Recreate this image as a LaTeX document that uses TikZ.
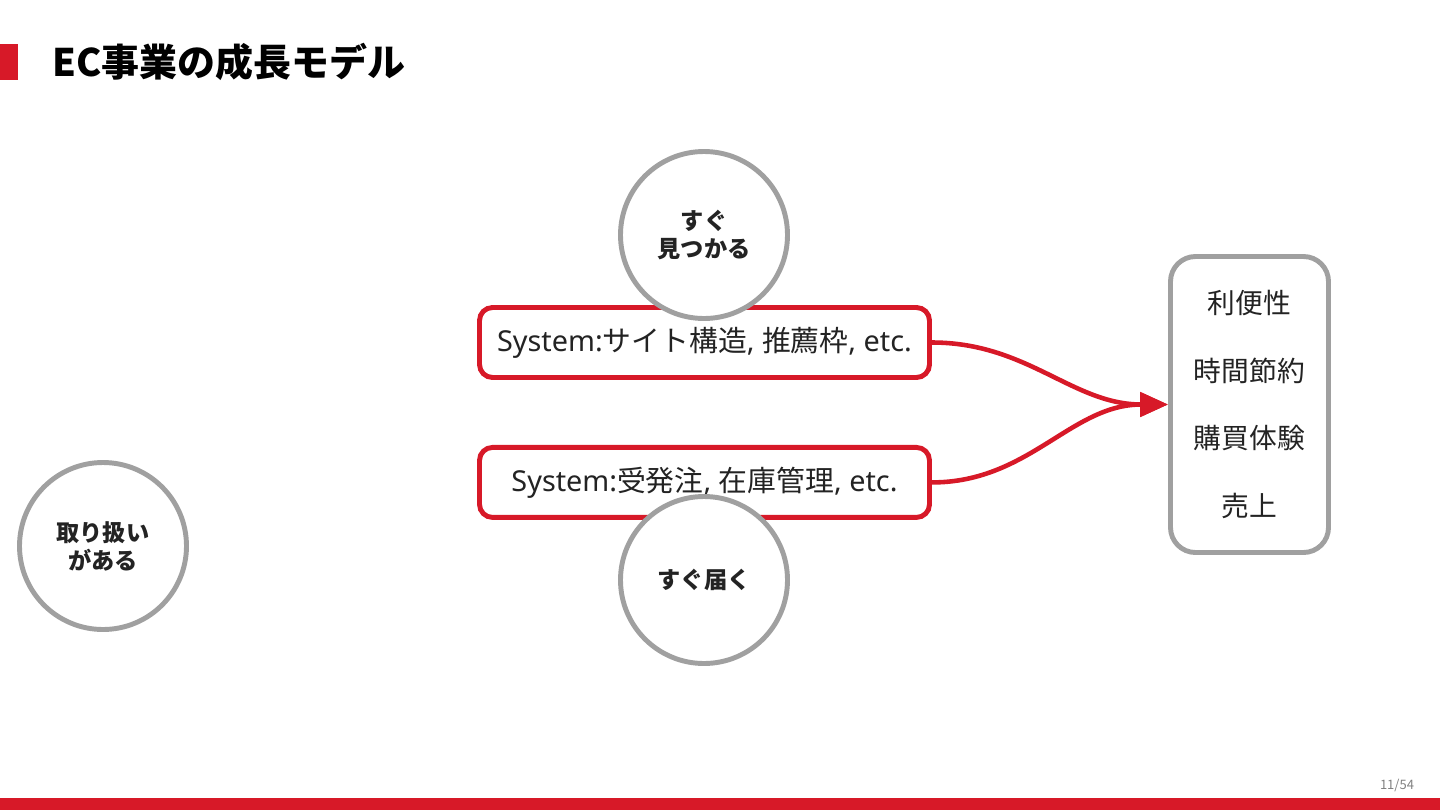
\documentclass[tikz,border=0pt]{standalone}
\usepackage{fontspec}
\setmainfont{Noto Sans CJK JP}
\newfontfamily\latn{Noto Sans}
\usetikzlibrary{arrows.meta,positioning}
\definecolor{ecred}{RGB}{215,25,40}
\definecolor{ecgray}{RGB}{160,160,160}
\definecolor{ecink}{RGB}{35,35,35}
\newcommand{\ltx}[1]{{\latn #1}}

\begin{document}
\begin{tikzpicture}[
    sysbox/.style={draw=ecred, line width=1.4pt, rounded corners=0.13cm, fill=white, minimum width=4.5cm, minimum height=0.7cm, inner sep=0pt, text=ecink, font=\fontsize{8.2}{9}\selectfont},
    bubble/.style={circle, draw=ecgray, line width=1.4pt, fill=white, minimum size=1.67cm, inner sep=0pt, align=center, text=ecink, font=\bfseries\fontsize{6.6}{8}\selectfont},
    flow/.style={-{Triangle[length=0.28cm, width=0.24cm]}, draw=ecred, line width=1.3pt}]
  \useasboundingbox (0,0) rectangle (14.4,8.1);
  % title and footer
  \fill[ecred] (0,7.30) rectangle (0.18,7.66);
  \node[anchor=west, inner sep=0pt, font=\bfseries\fontsize{10.8}{12}\selectfont] (title) at (0.52,7.48) {EC事業の成長モデル};
  \fill[ecred] (0,0) rectangle (14.4,0.12);
  \node[text=gray, font=\fontsize{3.7}{4}\selectfont] (page) at (13.97,0.25) {11/54};
  % systems
  \node[sysbox] (find) at (7.045,4.675) {\ltx{System:}サイト構造\ltx{, }推薦枠\ltx{, etc.}};
  \node[sysbox, below=0.65cm of find] (ship) {\ltx{System:}受発注\ltx{, }在庫管理\ltx{, etc.}};
  \node[draw=ecgray, line width=1.4pt, rounded corners=0.25cm, minimum width=1.58cm, minimum height=2.96cm, align=center, text=ecink, font=\fontsize{7.9}{19.3}\selectfont] (merit) at (12.495,4.055) {利便性\\時間節約\\購買体験\\売上};
  \draw[flow] (find.east) to[out=0, in=180] (merit.west);
  \draw[flow] (ship.east) to[out=0, in=180] (merit.west);
  % customer values
  \node[bubble] (seen) at (7.04,5.75) {すぐ\\見つかる};
  \node[bubble] (fast) at (7.04,2.30) {すぐ届く};
  \node[bubble] (stock) at (1.03,2.64) {取り扱い\\がある};
\end{tikzpicture}
\end{document}
